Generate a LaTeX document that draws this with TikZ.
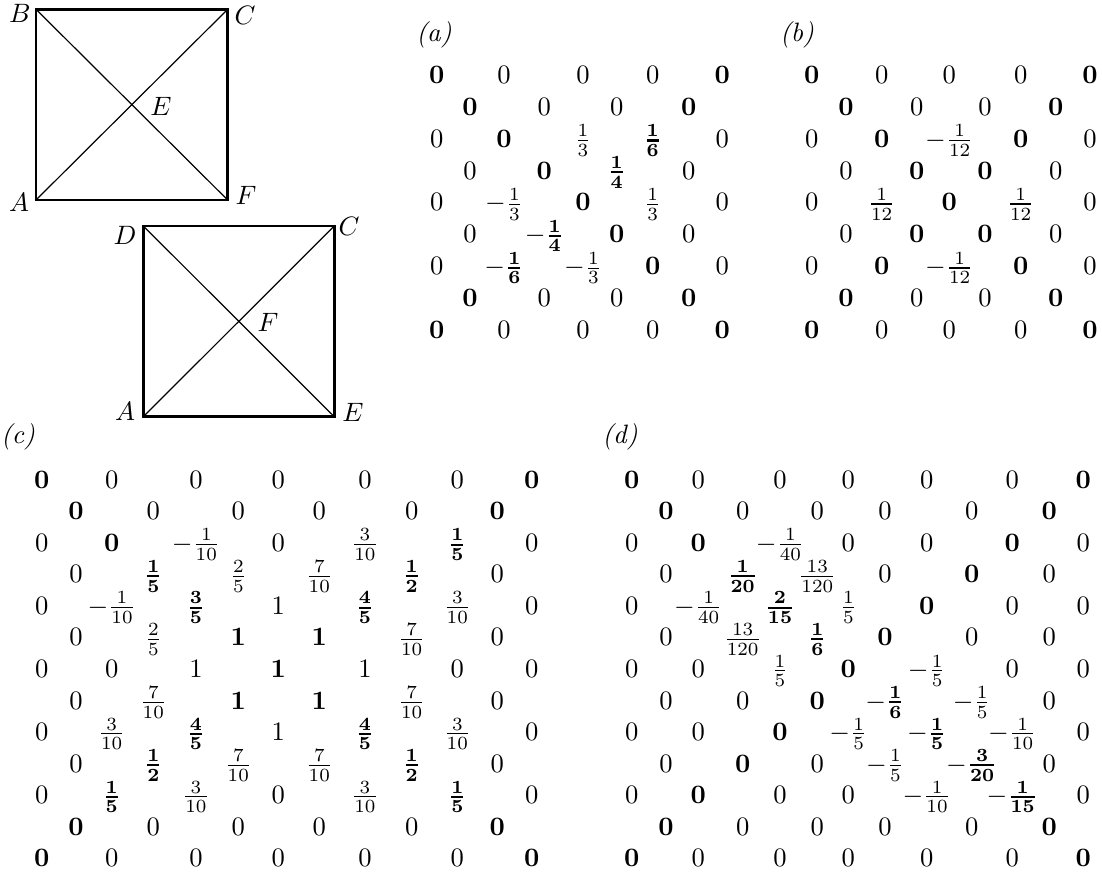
\documentclass[tikz,border=0pt]{standalone}
\usepackage{amsmath}
\newcommand\bfr[2]{\genfrac{}{}{0.8pt}{}{\mathbf{#1}}{\mathbf{#2}}}
\newcommand\tfr[2]{\genfrac{}{}{0.8pt}{}{#1}{#2}}
\newcommand\bz{\mathbf{0}}
\newcommand\mrow[5]{\foreach \c/\v in {#5}{\pgfmathsetmacro\xx{#3[\c-1]}\node[cell] (#1-#2-\c) at (\xx,{#4}) {$\v$};}}
\def\colsA{{436.7,470,504,544.3,583,616.7,652.7,688.7,722.3}}
\def\colsB{{811.7,846,881.7,916.7,949.3,985,1020.7,1055.7,1090}}
\def\colsC{{41.7,76,111.7,153.3,196,238.3,278.3,319.3,365,411.7,457.3,497.3,531.7}}
\def\colsD{{631.7,666,698.3,742.7,780,817.3,848.3,885,926.7,971.7,1012.3,1049.3,1083.3}}
\tikzset{
  cell/.style={inner sep=0pt, anchor=base},
  vlabel/.style={inner sep=0pt, anchor=center},
  edge/.style={line width=1pt, line join=miter},
  diag/.style={line width=0.45pt},
  tag/.style={inner sep=0pt, anchor=center, font=\itshape}
}
\begin{document}
\begin{tikzpicture}[x=0.376pt,y=-0.376pt]
\useasboundingbox (0,0) rectangle (1102,878);
% first square
\coordinate (B1) at (36,9.3);
\coordinate (C1) at (227.7,9.3);
\coordinate (A1) at (36,200);
\coordinate (F1) at (227.7,200);
\draw[diag] (A1) -- (C1);
\draw[diag] (B1) -- (F1);
\draw[edge] (A1) -- (F1) -- (C1) -- (B1) -- cycle;
\node[vlabel] (lB1) at (20,13) {$B$};
\node[vlabel] (lC1) at (245,15) {$C$};
\node[vlabel] (lE1) at (161,106) {$E$};
\node[vlabel] (lA1) at (19,202) {$A$};
\node[vlabel] (lF1) at (246,195) {$F$};
% second square
\coordinate (D2) at (143.3,226);
\coordinate (C2) at (334.3,226);
\coordinate (A2) at (143.3,416.7);
\coordinate (E2) at (334.3,416.7);
\draw[diag] (A2) -- (C2);
\draw[diag] (D2) -- (E2);
\draw[edge] (A2) -- (E2) -- (C2) -- (D2) -- cycle;
\node[vlabel] (lD2) at (125,235) {$D$};
\node[vlabel] (lC2) at (349,226) {$C$};
\node[vlabel] (lF2) at (268,322) {$F$};
\node[vlabel] (lA2) at (125,411) {$A$};
\node[vlabel] (lE2) at (353,412) {$E$};
% tags
\node[tag] (ta) at (434,35) {(a)};
\node[tag] (tb) at (797,35) {(b)};
\node[tag] (tc) at (18,437) {(c)};
\node[tag] (td) at (620,437) {(d)};
% array (a)
\mrow{a}{1}{\colsA}{83.3}{1/\bz,3/0,5/0,7/0,9/\bz}
\mrow{a}{2}{\colsA}{83.3+31.9}{2/\bz,4/0,6/0,8/\bz}
\mrow{a}{3}{\colsA}{83.3+31.9*2}{1/0,3/\bz,5/\frac{1}{3},7/\bfr16,9/0}
\mrow{a}{4}{\colsA}{83.3+31.9*3}{2/0,4/\bz,6/\bfr14,8/0}
\mrow{a}{5}{\colsA}{83.3+31.9*4}{1/0,3/-\frac{1}{3},5/\bz,7/\frac{1}{3},9/0}
\mrow{a}{6}{\colsA}{83.3+31.9*5}{2/0,4/-\bfr14,6/\bz,8/0}
\mrow{a}{7}{\colsA}{83.3+31.9*6}{1/0,3/-\bfr16,5/-\frac{1}{3},7/\bz,9/0}
\mrow{a}{8}{\colsA}{83.3+31.9*7}{2/\bz,4/0,6/0,8/\bz}
\mrow{a}{9}{\colsA}{83.3+31.9*8}{1/\bz,3/0,5/0,7/0,9/\bz}
% array (b)
\mrow{b}{1}{\colsB}{83.3}{1/\bz,3/0,5/0,7/0,9/\bz}
\mrow{b}{2}{\colsB}{83.3+31.9}{2/\bz,4/0,6/0,8/\bz}
\mrow{b}{3}{\colsB}{83.3+31.9*2}{1/0,3/\bz,5/-\frac{1}{12},7/\bz,9/0}
\mrow{b}{4}{\colsB}{83.3+31.9*3}{2/0,4/\bz,6/\bz,8/0}
\mrow{b}{5}{\colsB}{83.3+31.9*4}{1/0,3/\tfr{1}{12},5/\bz,7/\tfr{1}{12},9/0}
\mrow{b}{6}{\colsB}{83.3+31.9*5}{2/0,4/\bz,6/\bz,8/0}
\mrow{b}{7}{\colsB}{83.3+31.9*6}{1/0,3/\bz,5/-\tfr{1}{12},7/\bz,9/0}
\mrow{b}{8}{\colsB}{83.3+31.9*7}{2/\bz,4/0,6/0,8/\bz}
\mrow{b}{9}{\colsB}{83.3+31.9*8}{1/\bz,3/0,5/0,7/0,9/\bz}
% array (c)
\mrow{c}{1}{\colsC}{488.3}{1/\bz,3/0,5/0,7/0,9/0,11/0,13/\bz}
\mrow{c}{2}{\colsC}{488.3+31.53}{2/\bz,4/0,6/0,8/0,10/0,12/\bz}
\mrow{c}{3}{\colsC}{488.3+31.53*2}{1/0,3/\bz,5/-\frac{1}{10},7/0,9/\frac{3}{10},11/\bfr15,13/0}
\mrow{c}{4}{\colsC}{488.3+31.53*3}{2/0,4/\bfr15,6/\frac{2}{5},8/\frac{7}{10},10/\bfr12,12/0}
\mrow{c}{5}{\colsC}{488.3+31.53*4}{1/0,3/-\frac{1}{10},5/\bfr35,7/1,9/\bfr45,11/\frac{3}{10},13/0}
\mrow{c}{6}{\colsC}{488.3+31.53*5}{2/0,4/\frac{2}{5},6/\mathbf{1},8/\mathbf{1},10/\frac{7}{10},12/0}
\mrow{c}{7}{\colsC}{488.3+31.53*6}{1/0,3/0,5/1,7/\mathbf{1},9/1,11/0,13/0}
\mrow{c}{8}{\colsC}{488.3+31.53*7}{2/0,4/\frac{7}{10},6/\mathbf{1},8/\mathbf{1},10/\frac{7}{10},12/0}
\mrow{c}{9}{\colsC}{488.3+31.53*8}{1/0,3/\frac{3}{10},5/\bfr45,7/1,9/\bfr45,11/\frac{3}{10},13/0}
\mrow{c}{10}{\colsC}{488.3+31.53*9}{2/0,4/\bfr12,6/\frac{7}{10},8/\frac{7}{10},10/\bfr12,12/0}
\mrow{c}{11}{\colsC}{488.3+31.53*10}{1/0,3/\bfr15,5/\frac{3}{10},7/0,9/\frac{3}{10},11/\bfr15,13/0}
\mrow{c}{12}{\colsC}{488.3+31.53*11}{2/\bz,4/0,6/0,8/0,10/0,12/\bz}
\mrow{c}{13}{\colsC}{488.3+31.53*12}{1/\bz,3/0,5/0,7/0,9/0,11/0,13/\bz}
% array (d)
\mrow{d}{1}{\colsD}{488.3}{1/\bz,3/0,5/0,7/0,9/0,11/0,13/\bz}
\mrow{d}{2}{\colsD}{488.3+31.53}{2/\bz,4/0,6/0,8/0,10/0,12/\bz}
\mrow{d}{3}{\colsD}{488.3+31.53*2}{1/0,3/\bz,5/-\frac{1}{40},7/0,9/0,11/\bz,13/0}
\mrow{d}{4}{\colsD}{488.3+31.53*3}{2/0,4/\bfr{1}{20},6/\frac{13}{120},8/0,10/\bz,12/0}
\mrow{d}{5}{\colsD}{488.3+31.53*4}{1/0,3/-\frac{1}{40},5/\bfr{2}{15},7/\frac{1}{5},9/\bz,11/0,13/0}
\mrow{d}{6}{\colsD}{488.3+31.53*5}{2/0,4/\frac{13}{120},6/\bfr16,8/\bz,10/0,12/0}
\mrow{d}{7}{\colsD}{488.3+31.53*6}{1/0,3/0,5/\frac{1}{5},7/\bz,9/-\frac{1}{5},11/0,13/0}
\mrow{d}{8}{\colsD}{488.3+31.53*7}{2/0,4/0,6/\bz,8/-\bfr16,10/-\frac{1}{5},12/0}
\mrow{d}{9}{\colsD}{488.3+31.53*8}{1/0,3/0,5/\bz,7/-\frac{1}{5},9/-\bfr15,11/-\frac{1}{10},13/0}
\mrow{d}{10}{\colsD}{488.3+31.53*9}{2/0,4/\bz,6/0,8/-\frac{1}{5},10/-\bfr{3}{20},12/0}
\mrow{d}{11}{\colsD}{488.3+31.53*10}{1/0,3/\bz,5/0,7/0,9/-\frac{1}{10},11/-\bfr{1}{15},13/0}
\mrow{d}{12}{\colsD}{488.3+31.53*11}{2/\bz,4/0,6/0,8/0,10/0,12/\bz}
\mrow{d}{13}{\colsD}{488.3+31.53*12}{1/\bz,3/0,5/0,7/0,9/0,11/0,13/\bz}
\end{tikzpicture}
\end{document}
